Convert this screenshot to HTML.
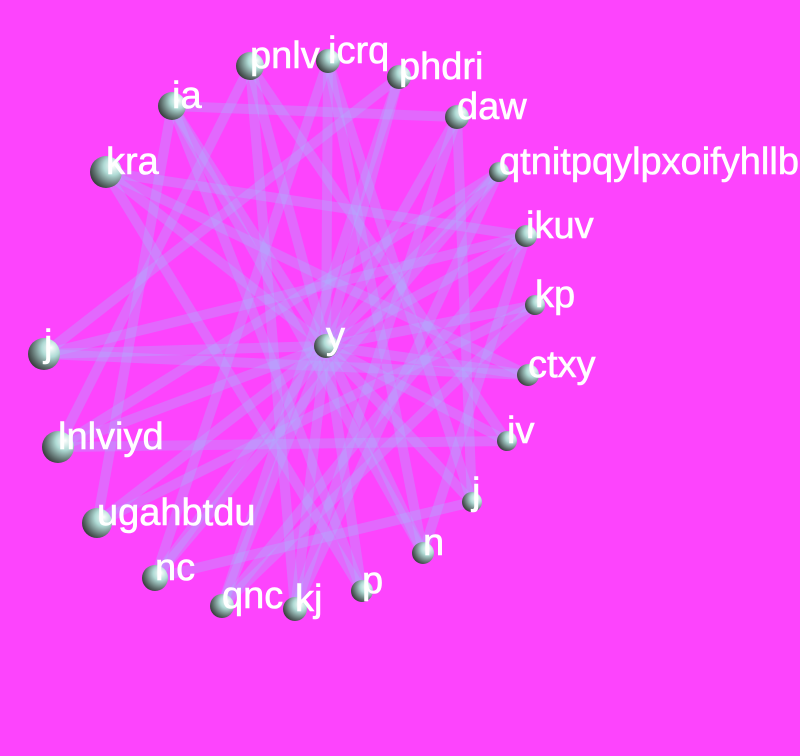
<!DOCTYPE html>
<html><head><meta charset="utf-8"><style>
html,body{margin:0;padding:0;background:#fd44fd;}
svg{display:block}
text{font-family:"Liberation Sans",sans-serif;font-size:38px;fill:#fff;stroke:#fff;stroke-width:0.6px;}
</style></head><body>
<svg id="chart" width="800" height="756" viewBox="0 0 800 756">
<defs>
<radialGradient id="ball" cx="0.7" cy="0.35" r="0.8" fx="0.72" fy="0.3">
<stop offset="0" stop-color="#ffffff"/>
<stop offset="0.35" stop-color="#b0dcd6"/>
<stop offset="0.75" stop-color="#5a6a68"/>
<stop offset="1" stop-color="#2a2a2a"/>
</radialGradient>
</defs>
<rect x="0" y="0" width="800" height="756" fill="#fd44fd"/>
<g id="edges"></g>
<g id="nodes"></g>
</svg>
<script>
const names=["kra","ia","pnlv","icrq","phdri","daw","qtnitpqylpxoifyhllb","ikuv","kp","ctxy","iv","j","n","p","kj","qnc","nc","ugahbtdu","lnlviyd","j","y"];
const xs=[106,172,250,328,399,457,499,526,535,528,507,472,423,362,295,222,155,97,58,44,326];
const ys=[172,106,66,61,77,117,172,236,305,375,441,502,553,591,609,606,578,523,447,354,346];
const sizes=[16,14,14,12,12,12,10,11,10,11,10,10,11,11,12,12,13,15,16,16,12];
const sources=[20,20,20,20,20,20,20,20,20,20,20,20,20,20,20,20,20,20,20,20,0,0,0,1,1,1,2,2,3,3,4,4,5,5,6,6,7,7,8,9,10,10,11,12,13,14,15,12];
const targets=[0,1,2,3,4,5,6,7,8,9,10,11,12,13,14,15,16,17,18,19,9,7,13,12,5,17,18,14,16,11,15,19,11,14,18,16,19,15,17,19,18,2,16,3,1,6,8,7];
const ns="http://www.w3.org/2000/svg";
const eg=document.getElementById('edges'), ng=document.getElementById('nodes');
for(let i=0;i<sources.length;i++){
  const a=sources[i], b=targets[i];
  const l=document.createElementNS(ns,'line');
  l.setAttribute('x1',xs[a]);l.setAttribute('y1',ys[a]);
  l.setAttribute('x2',xs[b]);l.setAttribute('y2',ys[b]);
  l.setAttribute('stroke','rgba(170,180,255,0.32)');
  l.setAttribute('stroke-width','10');
  
  
  eg.appendChild(l);
}
for(let i=0;i<names.length;i++){
  const c=document.createElementNS(ns,'circle');
  c.setAttribute('cx',xs[i]);c.setAttribute('cy',ys[i]);c.setAttribute('r',sizes[i]);
  c.setAttribute('fill','url(#ball)');
  
  
  ng.appendChild(c);
  const t=document.createElementNS(ns,'text');
  t.setAttribute('x',xs[i]);t.setAttribute('y',ys[i]+2);
  t.textContent=names[i];
  
  
  ng.appendChild(t);
}
</script>
</body></html>
